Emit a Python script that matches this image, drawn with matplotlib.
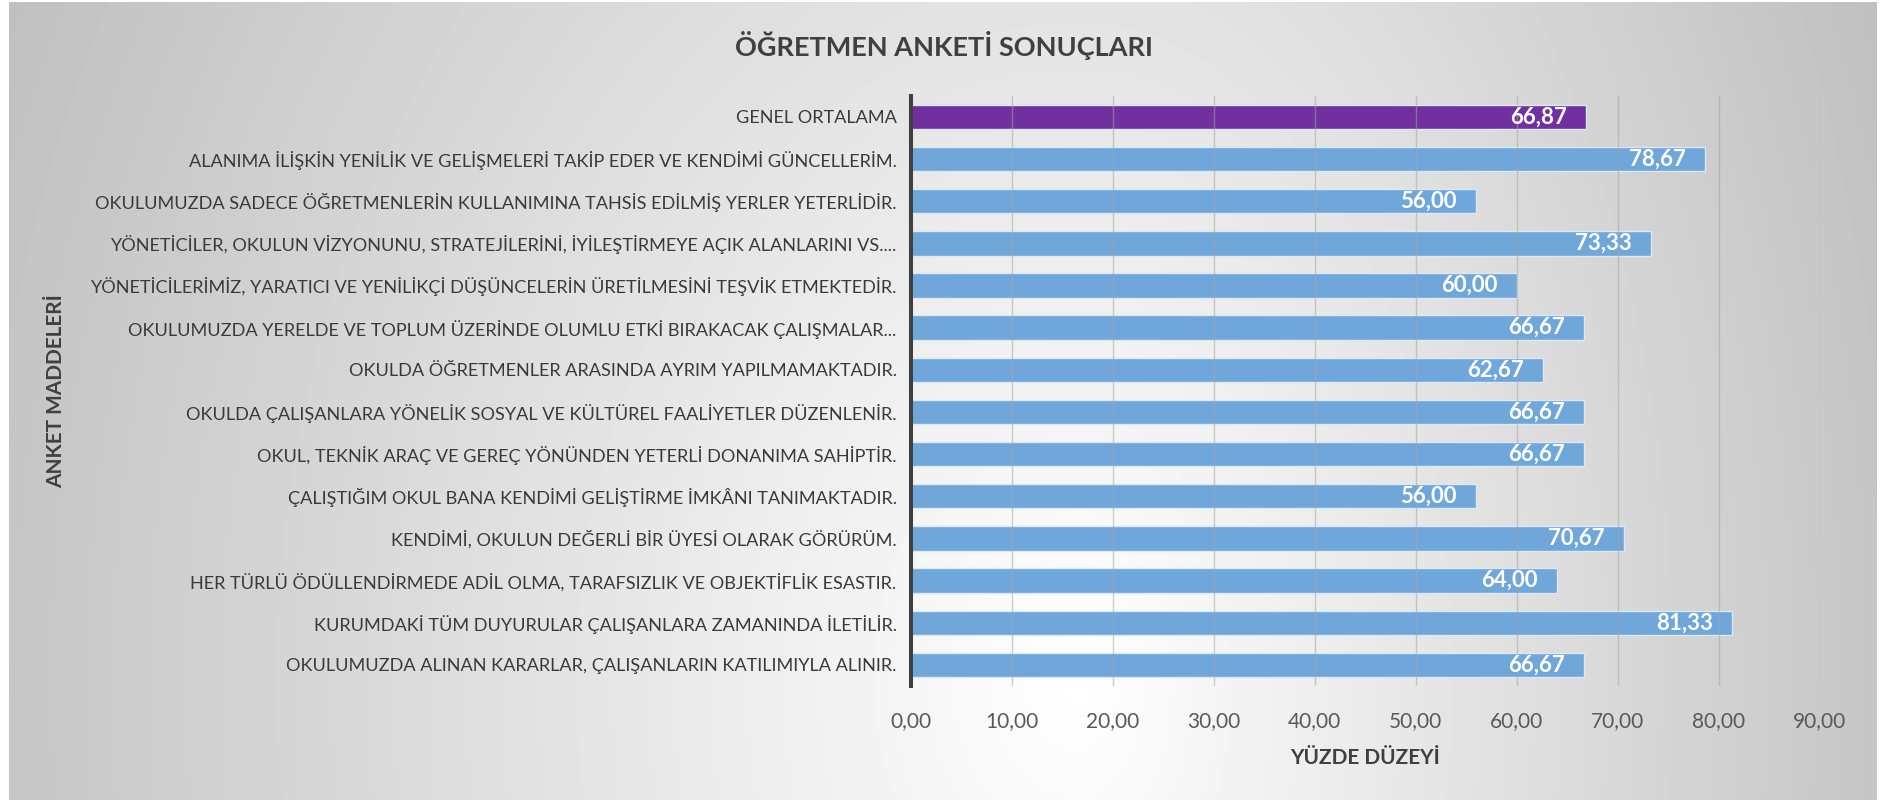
import matplotlib.pyplot as plt
import numpy as np

plt.rcParams['font.family'] = ['Lato', 'DejaVu Sans']

items = [
    "GENEL ORTALAMA",
    "ALANIMA İLİŞKİN YENİLİK VE GELİŞMELERİ TAKİP EDER VE KENDİMİ GÜNCELLERİM.",
    "OKULUMUZDA SADECE ÖĞRETMENLERİN KULLANIMINA TAHSİS EDİLMİŞ YERLER YETERLİDİR.",
    "YÖNETİCİLER, OKULUN VİZYONUNU, STRATEJİLERİNİ, İYİLEŞTİRMEYE AÇIK ALANLARINI VS....",
    "YÖNETİCİLERİMİZ, YARATICI VE YENİLİKÇİ DÜŞÜNCELERİN ÜRETİLMESİNİ TEŞVİK ETMEKTEDİR.",
    "OKULUMUZDA YERELDE VE TOPLUM ÜZERİNDE OLUMLU ETKİ BIRAKACAK ÇALIŞMALAR...",
    "OKULDA ÖĞRETMENLER ARASINDA AYRIM YAPILMAMAKTADIR.",
    "OKULDA ÇALIŞANLARA YÖNELİK SOSYAL VE KÜLTÜREL FAALİYETLER DÜZENLENİR.",
    "OKUL, TEKNİK ARAÇ VE GEREÇ YÖNÜNDEN YETERLİ DONANIMA SAHİPTİR.",
    "ÇALIŞTIĞIM OKUL BANA KENDİMİ GELİŞTİRME İMKÂNI TANIMAKTADIR.",
    "KENDİMİ, OKULUN DEĞERLİ BİR ÜYESİ OLARAK GÖRÜRÜM.",
    "HER TÜRLÜ ÖDÜLLENDİRMEDE ADİL OLMA, TARAFSIZLIK VE OBJEKTİFLİK ESASTIR.",
    "KURUMDAKİ TÜM DUYURULAR ÇALIŞANLARA ZAMANINDA İLETİLİR.",
    "OKULUMUZDA ALINAN KARARLAR, ÇALIŞANLARIN KATILIMIYLA ALINIR.",
]
scores = [66.87, 78.67, 56.00, 73.33, 60.00, 66.67, 62.67,
          66.67, 66.67, 56.00, 70.67, 64.00, 81.33, 66.67]
x_ticks = [0, 10, 20, 30, 40, 50, 60, 70, 80, 90]

W, H = 1887, 802
fig = plt.figure(figsize=(W / 100, H / 100), dpi=100)

# background gradient (light in the middle, grey to the edges)
bg = fig.add_axes([9 / W, 2 / H, (1877 - 9) / W, (800 - 2) / H])
gx, gy = np.meshgrid(np.linspace(9, 1877, 400), np.linspace(2, 800, 200))
cx, cy = 1080, 680
rx = np.where(gx < cx, 1150, 850)
d = np.sqrt(((gx - cx) / rx) ** 2 + ((gy - cy) / 1500) ** 2)
shade = 1 - 0.24 * np.clip(d, 0, 1.05)
bg.imshow(shade, cmap='gray', vmin=0, vmax=1, aspect='auto',
          extent=[0, 1, 0, 1], interpolation='bilinear')
bg.axis('off')

ax = fig.add_axes([910.5 / W, (H - 686) / H, (1819.5 - 910.5) / W, (686 - 95.7) / H])
ax.patch.set_alpha(0)

ypos = np.arange(len(items))
colors = ['#7030A0'] + ['#6FA7DA'] * (len(items) - 1)
bars = ax.barh(ypos, scores, height=0.58, color=colors,
               edgecolor='#DCE8F5', linewidth=1.0, zorder=2)

for b, v in zip(bars, scores):
    ax.text(v - 1.9, b.get_y() + b.get_height() / 2, f"{v:.2f}".replace('.', ','),
            ha='right', va='center', color='white', fontsize=16,
            fontweight='bold', zorder=4)

ax.set_xlim(0, 90)
ax.set_ylim(len(items) - 0.5, -0.5)
ax.set_xticks(x_ticks)
ax.set_xticklabels([f"{t:.2f}".replace('.', ',') for t in x_ticks],
                   fontsize=15, color='#595959')
ax.set_yticks(ypos)
ax.set_yticklabels(items, fontsize=13.1, color='#3A3A3A')
ax.tick_params(axis='both', length=0)
ax.tick_params(axis='x', pad=18)
ax.tick_params(axis='y', pad=10)

ax.grid(axis='x', color='#A6A6A6', linewidth=1.0, alpha=0.55, zorder=3)
ax.set_axisbelow(False)
for s in ['top', 'right', 'bottom']:
    ax.spines[s].set_visible(False)
ax.spines['left'].set_color('#404040')
ax.spines['left'].set_linewidth(2.9)
ax.spines['left'].set_zorder(5)

ax.set_xlabel("YÜZDE DÜZEYİ", fontsize=15, fontweight='bold',
              color='#404040', labelpad=12)
fig.text(56 / W, 1 - 391 / H, "ANKET MADDELERİ", rotation=90, fontsize=15,
         fontweight='bold', color='#404040', ha='center', va='center')
fig.text(944 / W, 1 - 46 / H, "ÖĞRETMEN ANKETİ SONUÇLARI", fontsize=19.5,
         fontweight='bold', color='#404040', ha='center', va='center')

fig.savefig('out.png', dpi=100)
